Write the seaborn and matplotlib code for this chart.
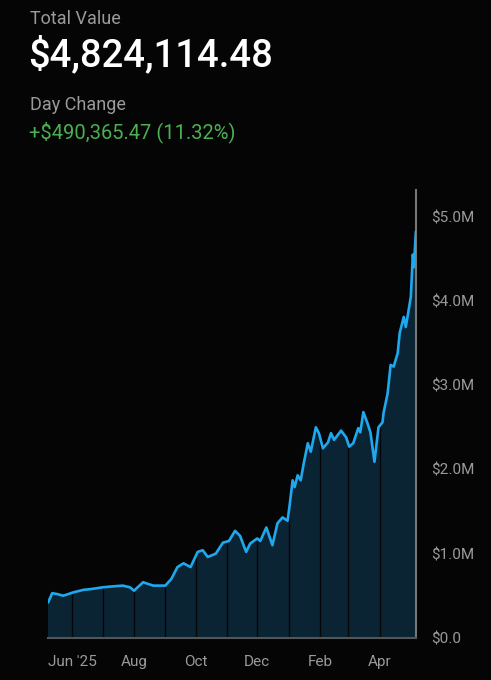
import numpy as np
import pandas as pd
import matplotlib
matplotlib.use("Agg")
import matplotlib.pyplot as plt
import matplotlib.dates as mdates
from matplotlib.ticker import FuncFormatter
import seaborn as sns

# portfolio value (millions of $)
dates = [
    "2025-05-08", "2025-05-12", "2025-05-17", "2025-05-23", "2025-05-28", "2025-06-02",
    "2025-06-12", "2025-06-20", "2025-07-01", "2025-07-10", "2025-07-21", "2025-07-28",
    "2025-08-01", "2025-08-10", "2025-08-15", "2025-08-20", "2025-09-01", "2025-09-07",
    "2025-09-13", "2025-09-19", "2025-09-26", "2025-10-03", "2025-10-08", "2025-10-13",
    "2025-10-21", "2025-10-28", "2025-11-03", "2025-11-09", "2025-11-14", "2025-11-20",
    "2025-11-24", "2025-12-01", "2025-12-04", "2025-12-10", "2025-12-16", "2025-12-21",
    "2025-12-26", "2025-12-31", "2026-01-02", "2026-01-05", "2026-01-07", "2026-01-10",
    "2026-01-13", "2026-01-16", "2026-01-20", "2026-01-23", "2026-01-28", "2026-01-31",
    "2026-02-04", "2026-02-09", "2026-02-12", "2026-02-15", "2026-02-22", "2026-02-27",
    "2026-03-02", "2026-03-06", "2026-03-11", "2026-03-13", "2026-03-16", "2026-03-20",
    "2026-03-23", "2026-03-27", "2026-03-31", "2026-04-04", "2026-04-05", "2026-04-09",
    "2026-04-12", "2026-04-15", "2026-04-19", "2026-04-21", "2026-04-25", "2026-04-27",
    "2026-04-29", "2026-05-02", "2026-05-04", "2026-05-05", "2026-05-07",
]
value_m = [
    0.42, 0.53, 0.52, 0.50, 0.52, 0.54,
    0.57, 0.58, 0.60, 0.61, 0.62, 0.60,
    0.56, 0.66, 0.64, 0.62, 0.62, 0.70,
    0.84, 0.885, 0.84, 1.02, 1.04, 0.96,
    1.00, 1.13, 1.15, 1.27, 1.21, 1.02,
    1.12, 1.18, 1.15, 1.31, 1.10, 1.36,
    1.43, 1.39, 1.57, 1.87, 1.79, 1.93,
    1.87, 2.07, 2.31, 2.21, 2.50, 2.43,
    2.25, 2.32, 2.43, 2.35, 2.46, 2.38,
    2.27, 2.31, 2.49, 2.44, 2.68, 2.55,
    2.44, 2.09, 2.50, 2.56, 2.67, 2.90,
    3.24, 3.22, 3.38, 3.62, 3.81, 3.69,
    3.83, 4.05, 4.55, 4.40, 4.824,
]
month_starts = ["2025-06-01", "2025-07-01", "2025-08-01", "2025-09-01", "2025-10-01",
                "2025-11-01", "2025-12-01", "2026-01-01", "2026-02-01", "2026-03-01",
                "2026-04-01"]
tick_dates = ["2025-06-01", "2025-08-01", "2025-10-01", "2025-12-01", "2026-02-01", "2026-04-01"]
tick_labels = ["Jun '25", "Aug", "Oct", "Dec", "Feb", "Apr"]
y_ticks = [0, 1e6, 2e6, 3e6, 4e6, 5e6]

BG = "#050505"
LINE = "#1ea8ee"
FILL = "#0a2434"
GREY = "#9a9a9a"

df = pd.DataFrame({"date": pd.to_datetime(dates), "value": np.array(value_m) * 1e6})

sns.set_theme(style="dark", rc={"figure.facecolor": BG, "axes.facecolor": BG})
plt.rcParams["font.family"] = ["Roboto", "DejaVu Sans"]

fig = plt.figure(figsize=(4.91, 6.8), dpi=100)
ax = fig.add_axes([0.098, 0.062, 0.749, 0.659])
ax.set_facecolor(BG)

ax.fill_between(df["date"], 0, df["value"], color=FILL, zorder=1)

# month separators inside the filled area
ms = pd.to_datetime(month_starts)
ms_vals = np.interp(mdates.date2num(ms), mdates.date2num(df["date"]), df["value"])
ax.vlines(ms, 0, ms_vals, color=BG, lw=1.0, zorder=2)

sns.lineplot(data=df, x="date", y="value", ax=ax, color=LINE, lw=1.9, zorder=3)

ax.set_xlim(df["date"].iloc[0], df["date"].iloc[-1])
ax.set_ylim(0, 5.32e6)
ax.set_xlabel("")
ax.set_ylabel("")

ax.yaxis.tick_right()
ax.set_yticks(y_ticks)
ax.yaxis.set_major_formatter(FuncFormatter(lambda v, p: "$0.0" if v == 0 else f"${v / 1e6:.1f}M"))
ax.set_xticks(pd.to_datetime(tick_dates))
ax.set_xticklabels(tick_labels)
ax.tick_params(axis="both", length=0, colors=GREY, labelsize=11)
ax.tick_params(axis="y", pad=11)
ax.tick_params(axis="x", pad=12)
ax.grid(False)

for side in ["top", "left"]:
    ax.spines[side].set_visible(False)
ax.spines["bottom"].set_color("#555555")
ax.spines["bottom"].set_linewidth(1.5)
ax.spines["right"].set_color("#777777")
ax.spines["right"].set_linewidth(1.5)

fig.text(0.061, 0.972, "Total Value", color=GREY, fontsize=13, va="center", ha="left")
fig.text(0.057, 0.920, "$4,824,114.48", color="white", fontsize=27.5, fontweight="medium",
         va="center", ha="left")
fig.text(0.061, 0.846, "Day Change", color=GREY, fontsize=13, va="center", ha="left")
fig.text(0.059, 0.805, "+$490,365.47 (11.32%)", color="#4caf50", fontsize=14.5,
         va="center", ha="left")

fig.savefig("out.png", dpi=100, facecolor=BG)
